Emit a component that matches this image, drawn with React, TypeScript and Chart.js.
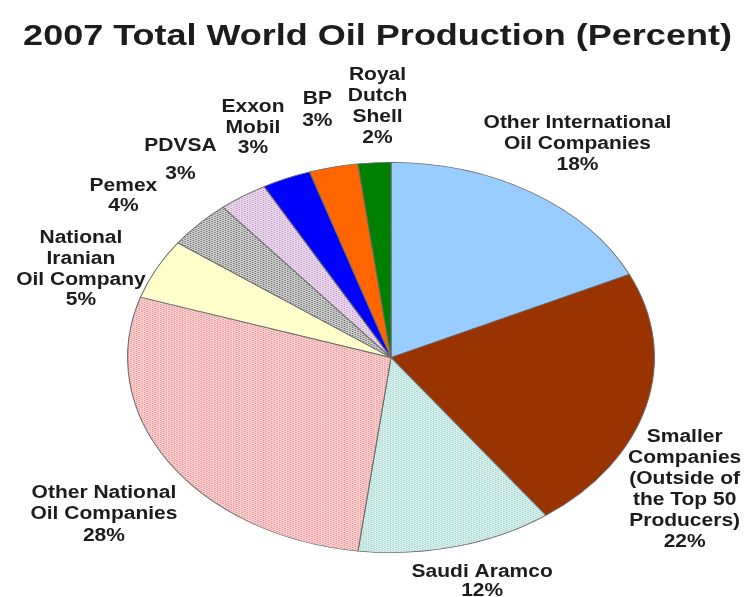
import React, { useEffect, useRef } from "react";
import { Chart, registerables } from "chart.js";

Chart.register(...registerables);

const TITLE = "2007 Total World Oil Production (Percent)";

const categories = [
  "Other International\nOil Companies",
  "Smaller\nCompanies\n(Outside of\nthe Top 50\nProducers)",
  "Saudi Aramco",
  "Other National\nOil Companies",
  "National\nIranian\nOil Company",
  "Pemex",
  "PDVSA",
  "Exxon\nMobil",
  "BP",
  "Royal\nDutch\nShell",
];

const values = [18, 22, 12, 28, 5, 4, 3, 3, 3, 2];

// fill styles: [base colour, dot colour or null]
const fills: [string, string | null][] = [
  ["#99CCFF", null],
  ["#993300", null],
  ["#D4F0EC", "#A5CDC8"],
  ["#FFCDCD", "#D79191"],
  ["#FFFFCC", null],
  ["#CDCDCD", "#696969"],
  ["#EED7F0", "#BA9BBE"],
  ["#0000FF", null],
  ["#FF6600", null],
  ["#008000", null],
];

// label layout tweaks (radial factor, nudge x, nudge y, line height)
const labelLayout: [number, number, number, number][] = [
  [1.3, 3, 1, 21],
  [1.3, -38, 69, 21],
  [1.3, 6, -21, 19],
  [1.3, 2, 21, 21.5],
  [1.3, -5, 27, 20.7],
  [1.3, -18, 12, 20],
  [1.3, -18, 12, 28],
  [1.3, -2, 3, 20.5],
  [1.3, 1, 0, 22],
  [1.3, 8, 2, 21],
];

const SX = 1.35; // horizontal stretch of the pie (ellipse)
const TSX = 1.2; // horizontal stretch of the text
const FONT = "Liberation Sans, Arial, sans-serif";

function makeFill(base: string, dot: string | null): string | CanvasPattern {
  if (!dot) return base;
  const c = document.createElement("canvas");
  c.width = 4;
  c.height = 4;
  const g = c.getContext("2d")!;
  g.fillStyle = base;
  g.fillRect(0, 0, 4, 4);
  g.fillStyle = dot;
  g.fillRect(0, 0, 1, 1);
  g.fillRect(2, 1, 1, 1);
  g.fillRect(0, 2, 1, 1);
  g.fillRect(2, 3, 1, 1);
  const p = g.createPattern(c, "repeat");
  return p || base;
}

function drawStretchedText(ctx: CanvasRenderingContext2D, text: string, x: number, y: number) {
  ctx.save();
  ctx.translate(x, y);
  ctx.scale(TSX, 1);
  ctx.fillText(text, 0, 0);
  ctx.restore();
}

const stretchPlugin = {
  id: "stretch",
  beforeDatasetsDraw(chart: any) {
    const arc = chart.getDatasetMeta(0).data[0];
    if (!arc) return;
    const ctx = chart.ctx;
    ctx.save();
    ctx.translate(arc.x, arc.y);
    ctx.scale(SX, 1);
    ctx.translate(-arc.x, -arc.y);
  },
  afterDatasetsDraw(chart: any) {
    chart.ctx.restore();
  },
};

const labelPlugin = {
  id: "labels",
  afterDraw(chart: any) {
    const ctx: CanvasRenderingContext2D = chart.ctx;
    ctx.save();
    ctx.fillStyle = "#1c1c1c";
    ctx.textAlign = "center";
    // title
    ctx.textBaseline = "alphabetic";
    ctx.font = `bold 30px ${FONT}`;
    drawStretchedText(ctx, TITLE, chart.width / 2 + 4, 45);

    ctx.font = `bold 17.5px ${FONT}`;
    ctx.textBaseline = "middle";
    const meta = chart.getDatasetMeta(0);
    meta.data.forEach((arc: any, i: number) => {
      const mid = (arc.startAngle + arc.endAngle) / 2;
      const [k, nx, ny, lh] = labelLayout[i];
      const r = arc.outerRadius * k;
      const cx = arc.x + Math.cos(mid) * r * SX + nx;
      const cy = arc.y + Math.sin(mid) * r + ny;
      const lines = [...categories[i].split("\n"), `${values[i]}%`];
      const n = lines.length;
      lines.forEach((line, j) => {
        drawStretchedText(ctx, line, cx, cy + (j - (n - 1) / 2) * lh);
      });
    });
    ctx.restore();
  },
};

export default function App() {
  const ref = useRef<HTMLCanvasElement>(null);
  useEffect(() => {
    document.body.style.margin = "0";
    const canvas = ref.current!;
    const chart = new Chart(canvas, {
      type: "pie",
      data: {
        labels: categories,
        datasets: [
          {
            data: values,
            backgroundColor: fills.map(([b, d]) => makeFill(b, d)) as any,
            borderColor: "#6a6a6a",
            borderWidth: 0.8,
          },
        ],
      },
      options: {
        responsive: true,
        maintainAspectRatio: false,
        animation: false,
        layout: { padding: { left: 195.5, right: 160.5, top: 162, bottom: 44 } },
        plugins: {
          legend: { display: false },
          tooltip: { enabled: false },
          title: { display: false },
        },
      },
      plugins: [stretchPlugin, labelPlugin],
    });
    return () => chart.destroy();
  }, []);
  return (
    <div style={{ width: 747, height: 597, position: "relative", background: "#fff" }}>
      <canvas ref={ref} />
    </div>
  );
}
